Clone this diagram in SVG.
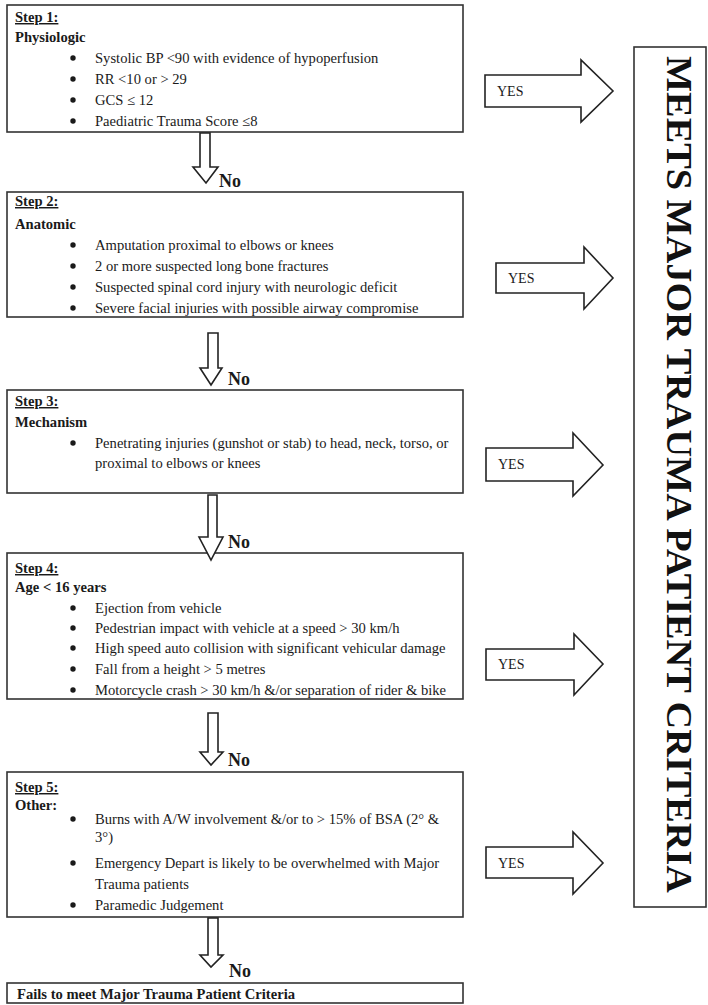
<svg xmlns="http://www.w3.org/2000/svg" width="708" height="1005" viewBox="0 0 708 1005">
<defs>
<circle id="dot" r="2.7" fill="#1a1a1a"/>
</defs>
<style>
.box{fill:#fff;stroke:#333;stroke-width:1.6}
.t{font-family:"Liberation Serif","Times New Roman",serif;font-size:14.6px;fill:#1a1a1a}
.y{font-family:"Liberation Serif","Times New Roman",serif;font-size:14px;fill:#1a1a1a}
.b{font-weight:bold}
.u{text-decoration:underline}
.no{font-family:"Liberation Serif","Times New Roman",serif;font-size:18px;font-weight:bold;fill:#1a1a1a}
.arr{fill:#fff;stroke:#222;stroke-width:1.6;stroke-linejoin:miter}
.big{font-family:"Liberation Serif","Times New Roman",serif;font-size:36px;font-weight:bold;fill:#111}
</style>
<rect width="708" height="1005" fill="#fff"/>

<g id="step1">
<rect class="box" x="7" y="5" width="456" height="127"/>
<text class="t b u" x="15" y="22">Step 1:</text>
<text class="t b" x="15" y="42">Physiologic</text>
<use href="#dot" x="73" y="58"/><use href="#dot" x="73" y="79"/><use href="#dot" x="73" y="100"/><use href="#dot" x="73" y="121"/>
<g class="t">
<text x="95" y="63">Systolic BP &lt;90 with evidence of hypoperfusion</text>
<text x="95" y="84">RR &lt;10 or &gt; 29</text>
<text x="95" y="105">GCS ≤ 12</text>
<text x="95" y="126">Paediatric Trauma Score ≤8</text>
</g>
</g>

<g id="step2">
<rect class="box" x="7" y="192" width="456" height="125"/>
<text class="t b u" x="15" y="206">Step 2:</text>
<text class="t b" x="15" y="229">Anatomic</text>
<use href="#dot" x="73" y="245"/><use href="#dot" x="73" y="266"/><use href="#dot" x="73" y="287"/><use href="#dot" x="73" y="308"/>
<g class="t">
<text x="95" y="250">Amputation proximal to elbows or knees</text>
<text x="95" y="271">2 or more suspected long bone fractures</text>
<text x="95" y="292">Suspected spinal cord injury with neurologic deficit</text>
<text x="95" y="313">Severe facial injuries with possible airway compromise</text>
</g>
</g>

<g id="step3">
<rect class="box" x="7" y="390" width="456" height="103"/>
<text class="t b u" x="15" y="406">Step 3:</text>
<text class="t b" x="15" y="427">Mechanism</text>
<use href="#dot" x="73" y="443"/>
<g class="t">
<text x="95" y="448">Penetrating injuries (gunshot or stab) to head, neck, torso, or</text>
<text x="95" y="468">proximal to elbows or knees</text>
</g>
</g>

<g id="step4">
<rect class="box" x="7" y="553" width="456" height="146"/>
<text class="t b u" x="15" y="573">Step 4:</text>
<text class="t b" x="15" y="592">Age &lt; 16 years</text>
<use href="#dot" x="73" y="608"/><use href="#dot" x="73" y="628"/><use href="#dot" x="73" y="648"/><use href="#dot" x="73" y="669"/><use href="#dot" x="73" y="690"/>
<g class="t">
<text x="95" y="613">Ejection from vehicle</text>
<text x="95" y="633">Pedestrian impact with vehicle at a speed &gt; 30 km/h</text>
<text x="95" y="653">High speed auto collision with significant vehicular damage</text>
<text x="95" y="674">Fall from a height &gt; 5 metres</text>
<text x="95" y="695">Motorcycle crash &gt; 30 km/h &amp;/or separation of rider &amp; bike</text>
</g>
</g>

<g id="step5">
<rect class="box" x="7" y="772" width="456" height="145"/>
<text class="t b u" x="15" y="792">Step 5:</text>
<text class="t b" x="15" y="810">Other:</text>
<use href="#dot" x="73" y="819"/><use href="#dot" x="73" y="863"/><use href="#dot" x="73" y="905"/>
<g class="t">
<text x="95" y="824">Burns with A/W involvement &amp;/or to &gt; 15% of BSA (2° &amp;</text>
<text x="95" y="842">3°)</text>
<text x="95" y="868">Emergency Depart is likely to be overwhelmed with Major</text>
<text x="95" y="889">Trauma patients</text>
<text x="95" y="910">Paramedic Judgement</text>
</g>
</g>

<g id="fails">
<rect class="box" x="7" y="983" width="456" height="20"/>
<text class="t b" x="17" y="999">Fails to meet Major Trauma Patient Criteria</text>
</g>

<g id="meets">
<rect class="box" x="634" y="47" width="72" height="860"/>
<text class="big" transform="translate(667,56) rotate(90)" textLength="837" lengthAdjust="spacingAndGlyphs">MEETS MAJOR TRAUMA PATIENT CRITERIA</text>
</g>

<g id="connectors">
<polygon class="arr" points="200,133 210,133 210,167 218,167 206,183 193,167 200,167"/>
<text class="no" x="219" y="187">No</text>
<polygon class="arr" points="208,333 218,333 218,368 222,368 211,385 200,368 208,368"/>
<text class="no" x="228" y="385">No</text>
<polygon class="arr" points="208,495 217,495 217,537 223,537 211,560 199,537 208,537"/>
<text class="no" x="228" y="548">No</text>
<polygon class="arr" points="208,713 218,713 218,752 223,752 211,765 200,752 208,752"/>
<text class="no" x="228" y="766">No</text>
<polygon class="arr" points="208,918 218,918 218,955 223,955 211,967 200,955 208,955"/>
<text class="no" x="229" y="977">No</text>

<polygon class="arr" points="485,75 581,75 581,60 613,91 581,122 581,107 485,107"/>
<text class="y" x="497" y="96">YES</text>
<polygon class="arr" points="496,263 584,263 584,247 613,278 584,309 584,293 496,293"/>
<text class="y" x="508" y="283">YES</text>
<polygon class="arr" points="486,448 573,448 573,433 603,465 573,496 573,481 486,481"/>
<text class="y" x="498" y="469">YES</text>
<polygon class="arr" points="486,649 574,649 574,634 603,664 574,695 574,680 486,680"/>
<text class="y" x="498" y="669">YES</text>
<polygon class="arr" points="486,847 573,847 573,832 603,863 573,894 573,878 486,878"/>
<text class="y" x="498" y="868">YES</text>
</g>
</svg>
